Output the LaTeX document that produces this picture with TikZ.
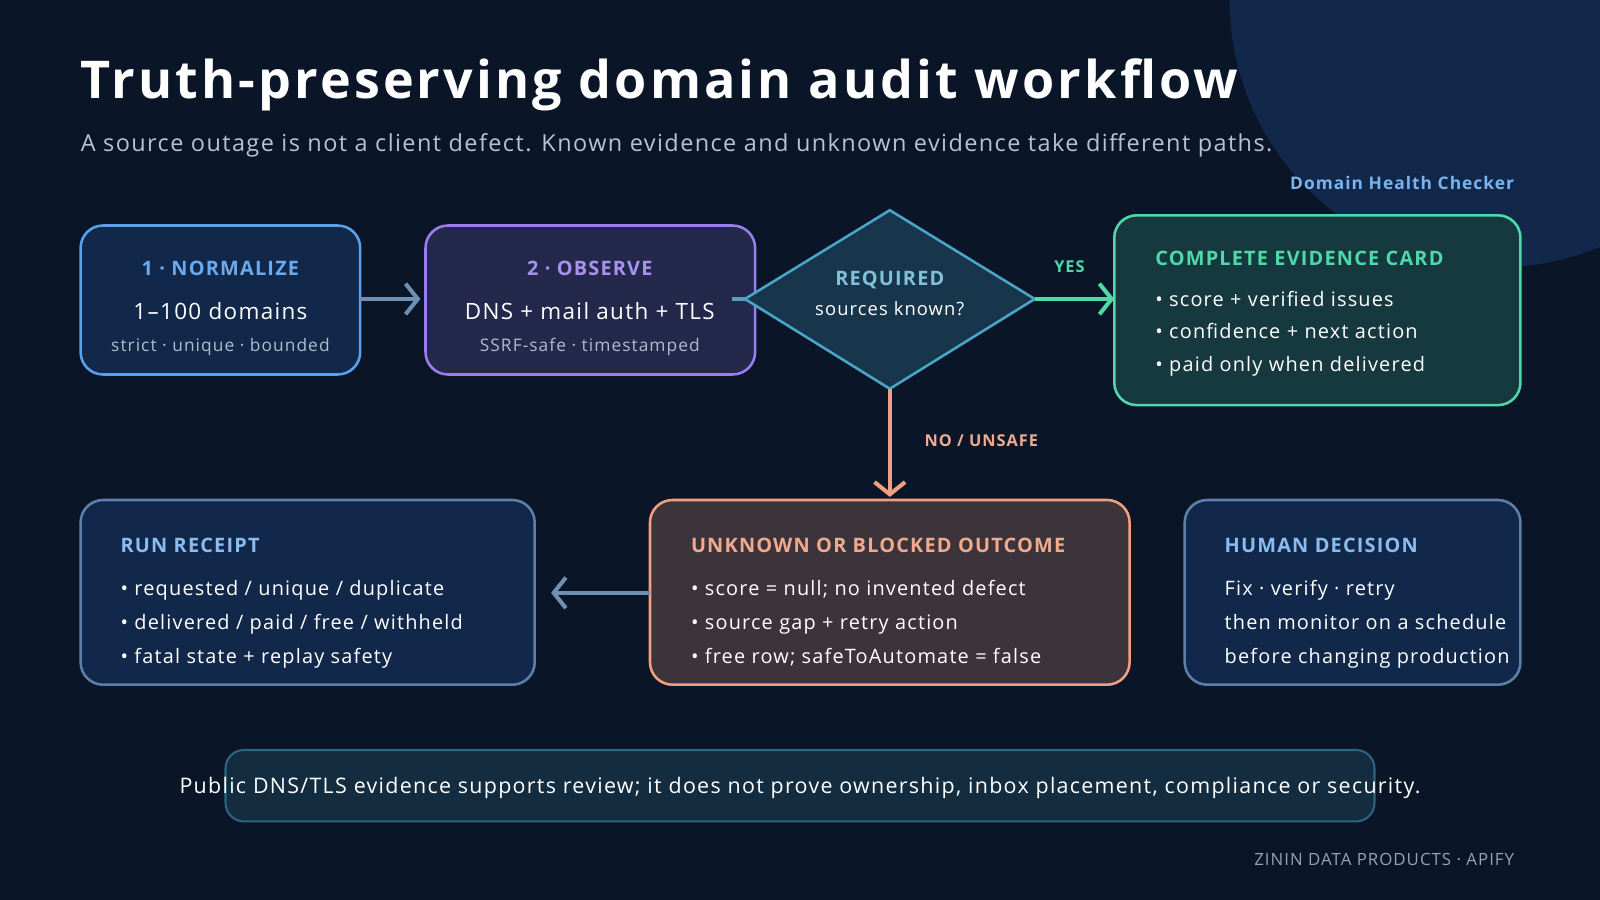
\documentclass[tikz,border=0pt]{standalone}
\usepackage{fontspec}
\setmainfont{Open Sans}[LetterSpace=6]
\usetikzlibrary{arrows.meta}
\usetikzlibrary{shapes.geometric}

\definecolor{bgc}{HTML}{0A1628}
\definecolor{blobc}{HTML}{12284A}
\definecolor{bluec}{HTML}{5AA0EA}
\definecolor{purpc}{HTML}{9A7EF0}
\definecolor{cyanc}{HTML}{4AA6C9}
\definecolor{greenc}{HTML}{4FD8A8}
\definecolor{orangec}{HTML}{F0A080}
\definecolor{slatec}{HTML}{5D7FA8}
\definecolor{greyc}{HTML}{AFBCCC}
\definecolor{arrc}{HTML}{6F8FB3}

\tikzset{
  card/.style={draw, line width=2.5pt, rounded corners=22pt},
  head/.style={anchor=base west, inner sep=0pt, font=\bfseries\fontsize{19.5}{22}\selectfont},
  line/.style={anchor=base west, inner sep=0pt, text=white, font=\fontsize{19.5}{22}\selectfont},
  flow/.style={line width=4.5pt, -{Straight Barb[length=12pt,width=30pt,line width=4pt]}},
}

\begin{document}
\begin{tikzpicture}[x=1pt,y=-1pt]
%background
\fill[bgc] (0,0) rectangle (1568,882);
\useasboundingbox (0,0) rectangle (1568,882);
\fill[blobc] (1467,0) circle (262);

% Title
\node[anchor=base west, inner sep=0pt, text=white, font=\bfseries\fontsize{51}{56}\selectfont] (title) at (79,97) {Truth-preserving domain audit workflow};
\node[anchor=base west, inner sep=0pt, text=greyc!90!white, font=\fontsize{23}{26}\selectfont] (sub) at (79,148) {A source outage is not a client defect. Known evidence and unknown evidence take different paths.};
\node[anchor=base east, inner sep=0pt, text=bluec!80!white, font=\bfseries\fontsize{17}{20}\selectfont] (brand) at (1484,186) {Domain Health Checker};

%Shape: Normalize
\draw[card, bluec, fill=blobc] (79,221) rectangle (353,367);
\coordinate (normE) at (353,293);
\node[anchor=base, inner sep=0pt, text=bluec!90!white, font=\bfseries\fontsize{19.5}{22}\selectfont] (normT) at (216,270) {1 · NORMALIZE};
\node[anchor=base, inner sep=0pt, text=white, font=\fontsize{22}{26}\selectfont] (normA) at (216,313) {1–100 domains};
\node[anchor=base, inner sep=0pt, text=greyc, font=\fontsize{17}{20}\selectfont] (normB) at (216,344) {strict · unique · bounded};

%Shape: Observe
\draw[card, purpc, fill=purpc!18!bgc] (417,221) rectangle (740,367);
\coordinate (obsW) at (412,293);
\coordinate (obsE) at (717,293);
\node[anchor=base, inner sep=0pt, text=purpc!85!white, font=\bfseries\fontsize{19.5}{22}\selectfont] (obsT) at (578,270) {2 · OBSERVE};
\node[anchor=base, inner sep=0pt, text=white, font=\fontsize{22}{26}\selectfont] (obsA) at (578,313) {DNS + mail auth + TLS};
\node[anchor=base, inner sep=0pt, text=greyc, font=\fontsize{17}{20}\selectfont] (obsB) at (578,344) {SSRF-safe · timestamped};

%Shape: Diamond
\draw[cyanc, line width=2.5pt, fill=cyanc!22!bgc] (730,293) -- (872,206) -- (1014,293) -- (872,381) -- cycle;
\coordinate (dW) at (730,293);
\coordinate (dE) at (1014,293);
\coordinate (dS) at (872,381);
\node[anchor=base, inner sep=0pt, text=cyanc!70!white, font=\bfseries\fontsize{19.5}{22}\selectfont] (dT) at (872,280) {REQUIRED};
\node[anchor=base, inner sep=0pt, text=white, font=\fontsize{18}{22}\selectfont] (dA) at (872,309) {sources known?};

%Shape: Complete card
\draw[card, greenc, fill=greenc!18!bgc] (1092,211) rectangle (1490,397);
\coordinate (compW) at (1092,293);
\node[head, text=greenc] (compT) at (1132,260) {COMPLETE EVIDENCE CARD};
\node[line] (compA) at (1132,300) {• score + verified issues};
\node[line] (compB) at (1132,332) {• confidence + next action};
\node[line] (compC) at (1132,364) {• paid only when delivered};

%Shape: Unknown
\draw[card, orangec, fill=orangec!22!bgc] (637,490) rectangle (1107,671);
\coordinate (unkN) at (872,487);
\coordinate (unkW) at (637,581);
\node[head, text=orangec!90!white] (unkT) at (677,541) {UNKNOWN OR BLOCKED OUTCOME};
\node[line] (unkA) at (677,584) {• score = null; no invented defect};
\node[line] (unkB) at (677,617) {• source gap + retry action};
\node[line] (unkC) at (677,650) {• free row; safeToAutomate = false};

%Shape: Run receipt
\draw[card, slatec, fill=blobc] (79,490) rectangle (524,671);
\coordinate (runE) at (540,581);
\node[head, text=bluec!70!white] (runT) at (118,541) {RUN RECEIPT};
\node[line] (runA) at (118,584) {• requested / unique / duplicate};
\node[line] (runB) at (118,617) {• delivered / paid / free / withheld};
\node[line] (runC) at (118,650) {• fatal state + replay safety};

%Shape: Human decision
\draw[card, slatec, fill=blobc] (1161,490) rectangle (1490,671);
\node[head, text=bluec!70!white] (humT) at (1200,541) {HUMAN DECISION};
\node[line] (humA) at (1200,584) {Fix · verify · retry};
\node[line] (humB) at (1200,617) {then monitor on a schedule};
\node[line] (humC) at (1200,650) {before changing production};

% Connectors
\draw[flow, arrc] (normE) -- (obsW);
\draw[line width=4.5pt, cyanc!70!arrc] (obsE) -- (dW);
\draw[flow, greenc] (dE) -- (compW);
\node[anchor=base, inner sep=0pt, text=greenc, font=\bfseries\fontsize{16}{20}\selectfont] (yes) at (1048,267) {YES};
\draw[flow, orangec] (dS) -- (unkN);
\node[anchor=base west, inner sep=0pt, text=orangec!90!white, font=\bfseries\fontsize{16}{20}\selectfont] (no) at (906,438) {NO / UNSAFE};
\draw[flow, arrc] (unkW) -- (runE);

% Footer
\draw[line width=2pt, cyanc!55!bgc, fill=cyanc!15!bgc, rounded corners=18pt] (221,735) rectangle (1347,805);
\node[anchor=base, inner sep=0pt, text=white, font=\fontsize{21}{24}\selectfont] (note) at (784,778) {Public DNS/TLS evidence supports review; it does not prove ownership, inbox placement, compliance or security.};
\node[anchor=base east, inner sep=0pt, text=greyc!85!bgc, font=\fontsize{16.5}{20}\selectfont] (credit) at (1484,848) {ZININ DATA PRODUCTS · APIFY};
\end{tikzpicture}
\end{document}
